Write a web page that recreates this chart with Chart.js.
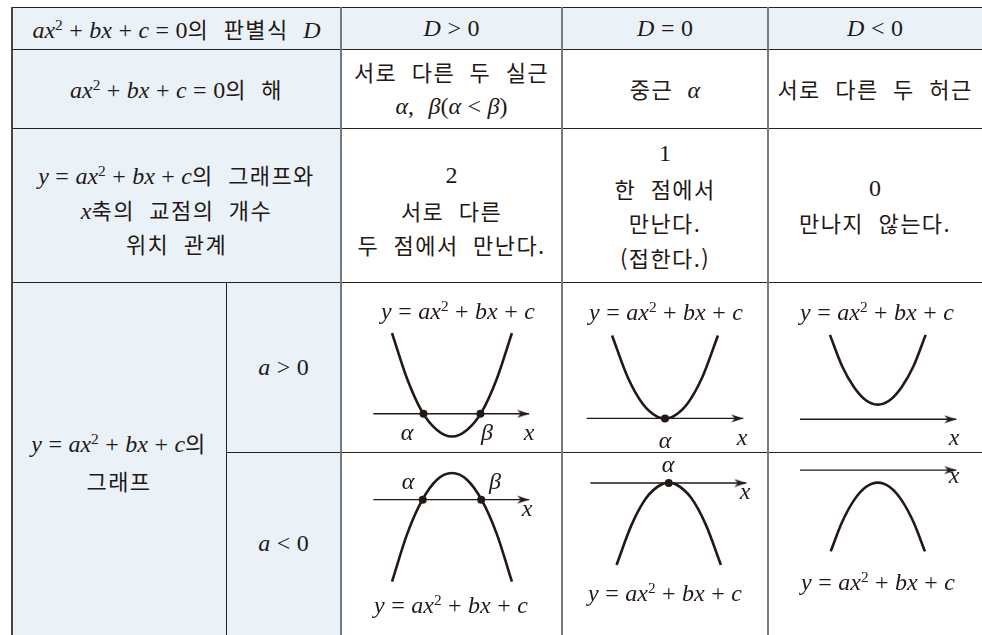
<!DOCTYPE html>
<html lang="ko">
<head>
<meta charset="utf-8">
<title>이차방정식의 판별식과 그래프</title>
<script src="https://cdn.jsdelivr.net/npm/chart.js@4.4.1/dist/chart.umd.min.js"></script>
<style>
    html, body { margin: 0; padding: 0; background: #fff; }
    #wrap { position: relative; width: 982px; height: 635px; overflow: hidden; color: #231815; }
    .bg { position: absolute; background: #eaf2f7; }
    .ln { position: absolute; }
    .cell { position: absolute; display: flex; flex-direction: column; align-items: center; justify-content: center; text-align: center; }
    .row { white-space: nowrap; height: 34.5px; line-height: 34.5px; }
    .k { font-family: "Noto Sans CJK KR", "Noto Sans", sans-serif; font-size: 22px; letter-spacing: 1.4px; word-spacing: 7px; }
    .m { font-family: "Liberation Serif", "DejaVu Serif", serif; font-size: 24px; }
    .m sup { font-size: 0.64em; vertical-align: 0.55em; line-height: 0; }
    .op { margin: 0 0.27em; }
    .gap { display: inline-block; width: 0.6em; }
    .lbl { position: absolute; white-space: nowrap; transform: translate(-50%, -50%); line-height: 1; }
    canvas { position: absolute; }
</style>
</head>
<body>
<div id="wrap"></div>
<script>
// ---- table text ----
const headLabel = "$ax^2+bx+c=0$의 판별식 $D$";
const discCases = ["$D>0$", "$D=0$", "$D<0$"];
const rootLabel = ["$ax^2+bx+c=0$의 해"];
const rootCases = [["서로 다른 두 실근", "$α,β(α<β)$"], ["중근 $α$"], ["서로 다른 두 허근"]];
const meetLabel = ["$y=ax^2+bx+c$의 그래프와", "$x$축의 교점의 개수", "위치 관계"];
const meetCases = [["$2$", "서로 다른", "두 점에서 만난다."], ["$1$", "한 점에서", "만난다.", "(접한다.)"], ["$0$", "만나지 않는다."]];
const graphLabel = ["$y=ax^2+bx+c$의", "그래프"];
const signCases = ["$a>0$", "$a<0$"];
const curveName = "$y=ax^2+bx+c$";

// ---- parabola samples (units, x-axis is y = 0) ----
// a > 0
const upTwoX = [-4, -3, -2, -1, 0, 1, 2, 3, 4];
const upTwoY = [5.5, 2.4, 0.15, -1.1, -1.55, -1.1, 0.15, 2.4, 5.5];
const upTwoRoots = [-1.9, 1.9];
const upOneX = [-3.55, -2.5, -1.5, -0.5, 0, 0.5, 1.5, 2.5, 3.55];
const upOneY = [5.65, 2.8, 1.0, 0.1, 0, 0.1, 1.0, 2.8, 5.65];
const upOneRoots = [0];
const upNoneX = [-3.2, -2.4, -1.6, -0.8, 0, 0.8, 1.6, 2.4, 3.2];
const upNoneY = [5.75, 3.65, 2.2, 1.3, 1.0, 1.3, 2.2, 3.65, 5.75];
// a < 0
const downTwoX = [-4, -3, -2, -1, 0, 1, 2, 3, 4];
const downTwoY = [-5.55, -2.35, -0.05, 1.35, 1.8, 1.35, -0.05, -2.35, -5.55];
const downTwoRoots = [-1.95, 1.95];
const downOneX = [-3.5, -2.5, -1.5, -0.5, 0, 0.5, 1.5, 2.5, 3.5];
const downOneY = [-5.55, -2.85, -1.0, -0.1, 0, -0.1, -1.0, -2.85, -5.55];
const downOneRoots = [0];
const downNoneX = [-3.15, -2.4, -1.6, -0.8, 0, 0.8, 1.6, 2.4, 3.15];
const downNoneY = [-5.5, -3.55, -2.05, -1.15, -0.85, -1.15, -2.05, -3.55, -5.5];
// x-axis extent [start, arrow tip]
const axisUpTwo = [-5.25, 5.15];
const axisUpOne = [-5.25, 5.25];
const axisUpNone = [-5.2, 5.25];
const axisDownTwo = [-5.25, 5.15];
const axisDownOne = [-5.25, 5.2];
const axisDownNone = [-5.2, 5.25];

// ---- layout ----
const wrap = document.getElementById("wrap");
const UNIT = 16;
const INK = "#231815";

function esc(c) { return c === "<" ? "&lt;" : c === ">" ? "&gt;" : c; }

function mathHtml(s) {
    let out = "";
    for (let i = 0; i < s.length; i++) {
        const c = s[i];
        if (c === "^") { out += "<sup>" + s[++i] + "</sup>"; continue; }
        if (/[a-zA-Zαβ]/.test(c)) out += "<i>" + c + "</i>";
        else if ("+=<>".includes(c)) out += '<span class="op">' + esc(c) + "</span>";
        else if (c === ",") out += ',<span class="gap"></span>';
        else out += c;
    }
    return '<span class="m">' + out + "</span>";
}

function rich(s) {
    return s.split("$").map((part, i) => {
        if (!part) return "";
        return i % 2 ? mathHtml(part) : '<span class="k">' + part + "</span>";
    }).join("");
}

function box(cls, x, y, w, h, css) {
    const d = document.createElement("div");
    d.className = cls;
    d.style.cssText = `left:${x}px;top:${y}px;width:${w}px;height:${h}px;` + (css || "");
    wrap.appendChild(d);
    return d;
}

function cell(lines, x, y, w, h, rowH) {
    const d = box("cell", x, y, w, h);
    lines.forEach((t) => {
        const r = document.createElement("div");
        r.className = "row";
        if (rowH) { r.style.height = rowH + "px"; r.style.lineHeight = rowH + "px"; }
        r.innerHTML = rich(t);
        d.appendChild(r);
    });
}

function label(t, x, y) {
    const d = document.createElement("div");
    d.className = "lbl";
    d.style.left = x + "px";
    d.style.top = y + "px";
    d.innerHTML = rich(t);
    wrap.appendChild(d);
}

// column / row edges
const colX = [12, 226, 341, 562, 768, 982];
const rowY = [7, 49, 128, 282, 452, 635];

// backgrounds
box("bg", colX[0], rowY[0], 982 - colX[0], rowY[1] - rowY[0]);
box("bg", colX[0], rowY[1], colX[2] - colX[0], rowY[5] - rowY[1]);

// grid lines
box("ln", colX[0], rowY[0], 982 - colX[0], 1, "background:#222");
[rowY[1], rowY[2], rowY[3]].forEach((y) => box("ln", colX[0], y, 982 - colX[0], 1, "background:#222"));
box("ln", colX[1], rowY[4], 982 - colX[1], 1, "background:#222");
box("ln", colX[0] - 1, rowY[0], 2, 640, "background:#454545");
[colX[2], colX[3], colX[4]].forEach((x) => box("ln", x - 1, rowY[0], 2, 640, "background:#7a7a7a"));
box("ln", colX[1], rowY[3], 1, 640, "background:#222");

// text cells
cell([headLabel], colX[0], rowY[0], colX[2] - colX[0], rowY[1] - rowY[0]);
discCases.forEach((t, i) => cell([t], colX[i + 2], rowY[0], colX[i + 3] - colX[i + 2], rowY[1] - rowY[0]));
cell(rootLabel, colX[0], rowY[1], colX[2] - colX[0], rowY[2] - rowY[1]);
rootCases.forEach((t, i) => cell(t, colX[i + 2], rowY[1], colX[i + 3] - colX[i + 2], rowY[2] - rowY[1]));
cell(meetLabel, colX[0], rowY[2] + 4, colX[2] - colX[0], rowY[3] - rowY[2]);
meetCases.forEach((t, i) => cell(t, colX[i + 2], rowY[2] + (t.length === 3 ? 5 : 0), colX[i + 3] - colX[i + 2], rowY[3] - rowY[2]));
cell(graphLabel, colX[0], rowY[3] + 2, colX[1] - colX[0], rowY[5] - rowY[3], 38);
signCases.forEach((t, i) => cell([t], colX[1], rowY[3 + i], colX[2] - colX[1], rowY[4 + i] - rowY[3 + i]));

// arrow head image: tip sits at the canvas centre
const arrow = document.createElement("canvas");
arrow.width = 26; arrow.height = 9;
(function () {
    const c = arrow.getContext("2d");
    c.fillStyle = INK;
    c.beginPath();
    c.moveTo(13, 4.5);
    c.lineTo(1, 0.5);
    c.lineTo(4.5, 4.5);
    c.lineTo(1, 8.5);
    c.closePath();
    c.fill();
})();

function pts(xs, ys) { return xs.map((x, i) => ({ x: x, y: ys[i] })); }

// one small chart per graph cell; (ox, oy) = origin inside the cell
function graph(col, row, ox, oy, xs, ys, roots, axis) {
    const x0 = colX[col], y0 = rowY[row];
    const w = colX[col + 1] - x0, h = rowY[row + 1] - y0;
    const cv = document.createElement("canvas");
    cv.width = w; cv.height = h;
    cv.style.left = x0 + "px"; cv.style.top = y0 + "px";
    wrap.appendChild(cv);
    new Chart(cv, {
        type: "scatter",
        data: {
            datasets: [
                {
                    data: pts(axis, [0, 0]),
                    showLine: true, borderColor: INK, borderWidth: 1.4, pointRadius: 0,
                },
                {
                    data: [{ x: axis[1], y: 0 }],
                    pointStyle: arrow, pointRadius: 6,
                },
                {
                    data: pts(xs, ys),
                    showLine: true, borderColor: INK, borderWidth: 2.6, tension: 0.4,
                    cubicInterpolationMode: "monotone", pointRadius: 0,
                },
                {
                    data: roots.map((r) => ({ x: r, y: 0 })),
                    pointRadius: 4, pointBackgroundColor: INK, pointBorderWidth: 0,
                },
            ],
        },
        options: {
            responsive: false,
            animation: false,
            events: [],
            layout: { padding: 0 },
            plugins: { legend: { display: false }, tooltip: { enabled: false } },
            scales: {
                x: { type: "linear", display: false, min: -ox / UNIT, max: (w - ox) / UNIT },
                y: { type: "linear", display: false, min: -(h - oy) / UNIT, max: oy / UNIT },
            },
        },
    });
}

graph(2, 3, 111, 136, upTwoX, upTwoY, upTwoRoots, axisUpTwo);
graph(3, 3, 103, 141, upOneX, upOneY, upOneRoots, axisUpOne);
graph(4, 3, 110, 142, upNoneX, upNoneY, [], axisUpNone);
graph(2, 4, 111, 44, downTwoX, downTwoY, downTwoRoots, axisDownTwo);
graph(3, 4, 107, 26, downOneX, downOneY, downOneRoots, axisDownOne);
graph(4, 4, 110, 12, downNoneX, downNoneY, [], axisDownNone);

// graph labels
label(curveName, 458, 311);
label("$α$", 407, 432); label("$β$", 487, 432); label("$x$", 529, 432);
label(curveName, 666, 312);
label("$α$", 665, 440); label("$x$", 742, 437);
label(curveName, 877, 312);
label("$x$", 954, 437);
label("$α$", 408, 481); label("$β$", 495, 481); label("$x$", 527, 508);
label(curveName, 451, 605);
label("$α$", 668, 464); label("$x$", 745, 491);
label(curveName, 665, 593);
label("$x$", 954, 475);
label(curveName, 878, 582);
</script>
</body>
</html>
